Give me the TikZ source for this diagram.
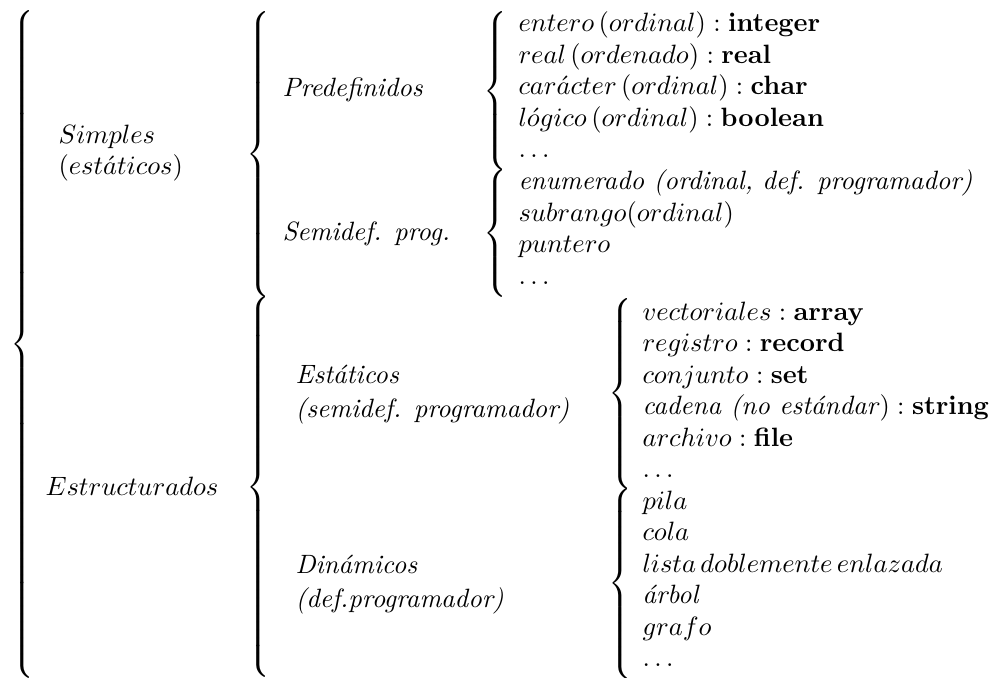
\documentclass[tikz,border=0pt]{standalone}
\usepackage{amsmath}
\newdimen\pxu \pxu=0.3774pt
% extensible TeX brace of a given height (in px units)
\newcommand{\tallbrace}[1]{$\delimitershortfall=0pt\delimiterfactor=1000\left\{\vcenter{\hrule height #1\pxu width 0pt}\right.$}

\begin{document}
\begin{tikzpicture}[x=0.3774pt, y=-0.3774pt, brc/.style={inner sep=0pt, anchor=west}, lbl/.style={inner sep=0pt, anchor=base west}]
\useasboundingbox (0,0) rectangle (993,677);
% braces
\node (tipos) [brc] at (10,344.5) {\tallbrace{655}};
\node (simpbr) [brc] at (246,154.5) {\tallbrace{278}};
\node (estrbr) [brc] at (246,487) {\tallbrace{372}};
\node (predbr) [brc] at (483,91) {\tallbrace{152}};
\node (semibr) [brc] at (483,233.5) {\tallbrace{121}};
\node (estabr) [brc] at (608,393.5) {\tallbrace{186}};
\node (dinabr) [brc] at (608,583.5) {\tallbrace{180}};
% first and second level
\node (simp) [lbl] at (58,144) {$Simples$};
\node (simpb) [lbl] at (58,175) {$(est\acute{a}ticos)$};
\node (estr) [lbl] at (45,495) {$Estructurados$};
\node (pred) [lbl] at (282,97) {\textit{Predefinidos}};
\node (semi) [lbl] at (282,240) {\textit{Semidef. prog.}};
\node (esta) [lbl] at (295,383) {\textit{Estáticos}};
\node (estab) [lbl] at (295,417) {\textit{(semidef. programador)}};
\node (dina) [lbl] at (295,573) {\textit{Dinámicos}};
\node (dinab) [lbl] at (295,607) {\textit{(def.programador)}};
% simple types
\foreach \txt [count=\i from 0] in {{$entero\,(ordinal) : \mathbf{integer}$},{$real\,(ordenado) : \mathbf{real}$},{$car\acute{a}cter\,(ordinal) : \mathbf{char}$},{$l\acute{o}gico\,(ordinal) : \mathbf{boolean}$},{$\ldots$},{\textit{enumerado (ordinal, def. programador)}},{$subrango(ordinal)$},{$puntero$},{$\ldots$}}
\node (s\i) [lbl] at (518,{32+31.5*\i}) {\txt};
% structured types
\foreach \txt [count=\i from 0] in {{$vectoriales : \mathbf{array}$},{$registro : \mathbf{record}$},{$conjunto : \mathbf{set}$},{\textit{cadena (no estándar}$) : \mathbf{string}$},{$archivo : \textbf{file}$},{$\ldots$},{$pila$},{$cola$},{$lista\,doblemente\,enlazada$},{\textit{árbol}},{$grafo$},{$\ldots$}}
\node (e\i) [lbl] at (642,{320+31.5*\i}) {\txt};
\end{tikzpicture}
\end{document}
